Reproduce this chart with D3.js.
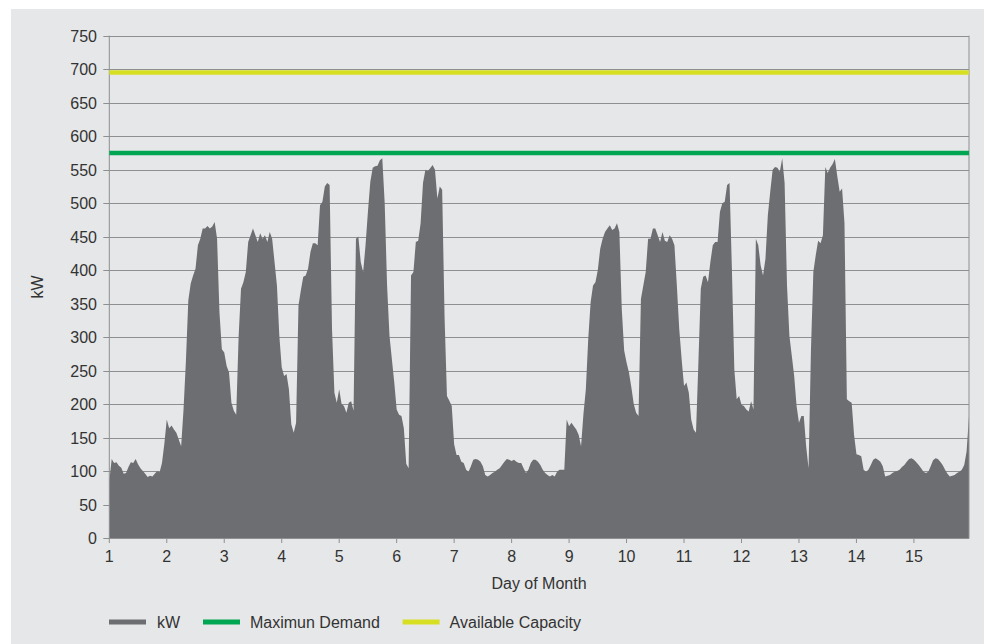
<!DOCTYPE html>
<html lang="en">
<head>
    <meta charset="UTF-8">
    <title>kW Demand</title>
    <script src="https://d3js.org/d3.v7.min.js"></script>
    <style>
        body { margin: 0; background: #ffffff; }
        text { font-family: "Liberation Sans", Arial, sans-serif; fill: #333333; }
        .grid { stroke: #8e8f91; stroke-width: 1px; }
        .axis-line { stroke: #8e8f91; stroke-width: 1px; fill: none; }
        .kw-area { fill: #6d6e71; }
    </style>
</head>
<body>
    <div id="chart"></div>
    <script>
        // hourly kW readings, one array per day
        const day01 = [85,118,112,113,108,105,96,97,106,113,112,118,110,104,100,96,91,93,92,96,100,98,112,141];
        const day02 = [177,164,168,162,157,147,137,192,265,355,380,392,402,437,447,462,462,466,462,465,472,447,337,282];
        const day03 = [277,257,247,202,190,184,300,372,382,397,442,452,462,452,442,455,447,452,442,457,447,412,377,302];
        const day04 = [255,242,245,222,170,157,172,347,370,390,392,402,427,440,440,437,497,502,525,530,527,312,217,202];
        const day05 = [222,200,197,187,202,204,190,447,450,412,397,437,487,532,553,555,556,564,567,500,377,302,267,232];
        const day06 = [192,184,182,164,111,104,392,397,442,444,470,530,550,548,552,557,550,507,525,520,330,212,205,197];
        const day07 = [140,124,124,114,112,102,99,107,117,118,117,114,107,94,92,94,97,99,102,104,109,114,118,117];
        const day08 = [115,117,114,112,112,104,97,102,112,117,117,114,109,102,97,94,92,94,92,99,102,102,102,177];
        const day09 = [167,172,167,162,154,137,185,222,297,352,377,382,400,432,447,457,462,467,460,462,470,457,342,280];
        const day10 = [262,247,225,200,187,182,357,377,397,447,447,462,462,452,442,457,444,442,452,447,437,377,312,267];
        const day11 = [227,232,217,177,162,157,262,372,390,392,382,412,437,442,442,487,500,502,527,530,400,252,207,212];
        const day12 = [199,197,192,189,204,192,447,437,407,392,417,482,517,550,554,553,547,567,530,377,302,272,242,197];
        const day13 = [172,182,182,137,104,280,397,422,444,440,452,554,545,553,558,566,540,517,522,470,207,204,202,154];
        const day14 = [125,124,122,102,99,102,109,117,119,117,114,107,92,93,94,97,99,100,102,106,109,114,118,119];
        const day15 = [117,113,109,104,99,97,99,107,116,119,118,114,109,102,96,92,93,94,97,99,102,109,129,182];

        const maxDemand = 575;
        const availableCapacity = 695;

        const dayLabels = ["1","2","3","4","5","6","7","8","9","10","11","12","13","14","15"];
        const yTicks = [0,50,100,150,200,250,300,350,400,450,500,550,600,650,700,750];

        const legendItems = ["kW", "Maximun Demand", "Available Capacity"];
        const legendColors = ["#6d6e71", "#00a651", "#d7df23"];

        const kw = [].concat(day01, day02, day03, day04, day05, day06, day07, day08,
                             day09, day10, day11, day12, day13, day14, day15);

        const width = 984;
        const height = 644;
        const plotLeft = 109.3, plotRight = 969, plotTop = 35.7, plotBottom = 538;

        const svg = d3.select("#chart")
            .append("svg")
            .attr("width", width)
            .attr("height", height);

        svg.append("rect")
            .attr("x", 11).attr("y", 9)
            .attr("width", width - 11).attr("height", height - 9)
            .attr("fill", "#e6e7e8");

        const x = d3.scaleLinear().domain([0, kw.length - 1]).range([plotLeft, plotRight]);
        const y = d3.scaleLinear().domain([0, 750]).range([plotBottom, plotTop]);

        // grid lines
        svg.append("g")
            .selectAll("line")
            .data(yTicks)
            .join("line")
            .attr("class", "grid")
            .attr("x1", plotLeft - 6)
            .attr("x2", plotRight)
            .attr("y1", d => Math.round(y(d)) + 0.5)
            .attr("y2", d => Math.round(y(d)) + 0.5);

        // kW area
        svg.append("path")
            .datum(kw)
            .attr("class", "kw-area")
            .attr("d", d3.area()
                .x((d, i) => x(i))
                .y0(y(0))
                .y1(d => y(d)));

        // axis frame
        svg.append("line").attr("class", "axis-line")
            .attr("x1", plotLeft).attr("x2", plotLeft).attr("y1", plotTop).attr("y2", plotBottom + 0.5);
        svg.append("line").attr("class", "axis-line")
            .attr("x1", plotRight).attr("x2", plotRight).attr("y1", plotTop).attr("y2", plotBottom + 0.5);
        svg.append("line").attr("class", "axis-line")
            .attr("x1", plotLeft).attr("x2", plotRight)
            .attr("y1", Math.round(y(0)) + 0.5).attr("y2", Math.round(y(0)) + 0.5);

        // reference lines
        svg.append("line")
            .attr("x1", plotLeft).attr("x2", plotRight)
            .attr("y1", y(availableCapacity)).attr("y2", y(availableCapacity))
            .attr("stroke", legendColors[2]).attr("stroke-width", 4.5);
        svg.append("line")
            .attr("x1", plotLeft).attr("x2", plotRight)
            .attr("y1", y(maxDemand)).attr("y2", y(maxDemand))
            .attr("stroke", legendColors[1]).attr("stroke-width", 4.5);

        // y tick labels
        svg.append("g")
            .selectAll("text")
            .data(yTicks)
            .join("text")
            .attr("x", 97)
            .attr("y", d => y(d) + 6)
            .attr("text-anchor", "end")
            .attr("font-size", 16)
            .text(d => d);

        // x ticks and labels
        const dayIdx = dayLabels.map((d, i) => i * 24);
        svg.append("g")
            .selectAll("line")
            .data(dayIdx)
            .join("line")
            .attr("class", "axis-line")
            .attr("x1", d => x(d)).attr("x2", d => x(d))
            .attr("y1", plotBottom).attr("y2", plotBottom + 5);
        svg.append("g")
            .selectAll("text")
            .data(dayLabels)
            .join("text")
            .attr("x", (d, i) => x(dayIdx[i]))
            .attr("y", 562)
            .attr("text-anchor", "middle")
            .attr("font-size", 16)
            .text(d => d);

        svg.append("text")
            .attr("x", 539).attr("y", 589)
            .attr("text-anchor", "middle")
            .attr("font-size", 16)
            .text("Day of Month");

        svg.append("text")
            .attr("transform", "translate(43,287) rotate(-90)")
            .attr("text-anchor", "middle")
            .attr("font-size", 16)
            .text("kW");

        // legend
        const legendX = [109, 203, 402.6];
        const lg = svg.append("g")
            .selectAll("g")
            .data(legendItems)
            .join("g")
            .attr("transform", (d, i) => `translate(${legendX[i]},622)`);
        lg.append("rect")
            .attr("x", 0).attr("y", -2.5)
            .attr("width", 37).attr("height", 5)
            .attr("fill", (d, i) => legendColors[i]);
        lg.append("text")
            .attr("x", (d, i) => i === 0 ? 48 : 47)
            .attr("y", 6)
            .attr("font-size", 16)
            .text(d => d);
    </script>
</body>
</html>
